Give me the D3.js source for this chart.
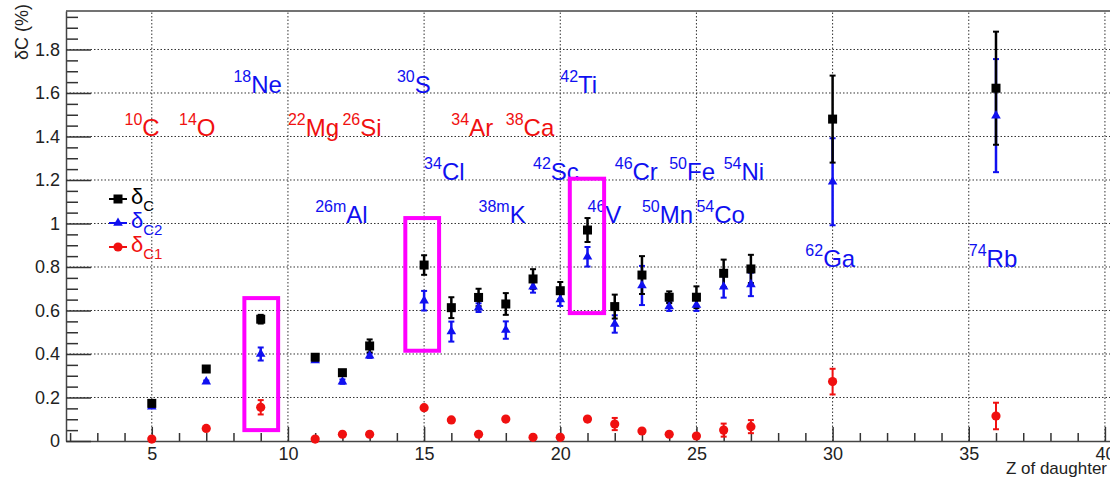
<!DOCTYPE html>
<html>
<head>
<meta charset="utf-8">
<script src="https://cdn.jsdelivr.net/npm/d3@7"></script>
<style>
body { margin: 0; background: #fff; }
svg { display: block; font-family: "Liberation Sans", Arial, Helvetica, sans-serif; }
</style>
</head>
<body>
<div id="chart"></div>
<script>
// Z of the daughter nucleus
const zDaughter = [5, 7, 9, 11, 12, 13, 15, 16, 17, 18, 19, 20, 21, 22, 23, 24, 25, 26, 27, 30, 36];

// delta_C (total) and its error
const deltaC    = [0.173, 0.331, 0.560, 0.385, 0.314, 0.437, 0.809, 0.613, 0.660, 0.630, 0.745, 0.691, 0.970, 0.618, 0.763, 0.661, 0.661, 0.771, 0.791, 1.480, 1.622];
const deltaCErr = [0.010, 0.010, 0.020, 0.010, 0.010, 0.030, 0.045, 0.048, 0.040, 0.050, 0.045, 0.040, 0.055, 0.055, 0.087, 0.027, 0.050, 0.063, 0.065, 0.200, 0.260];

// delta_C2 and its error
const deltaC2    = [0.158, 0.273, 0.400, 0.370, 0.273, 0.392, 0.645, 0.503, 0.613, 0.510, 0.709, 0.651, 0.847, 0.538, 0.715, 0.618, 0.625, 0.709, 0.720, 1.192, 1.496];
const deltaC2Err = [0.005, 0.005, 0.030, 0.005, 0.010, 0.010, 0.045, 0.046, 0.020, 0.040, 0.027, 0.030, 0.045, 0.040, 0.090, 0.020, 0.027, 0.050, 0.054, 0.200, 0.260];

// delta_C1 and its error
const deltaC1    = [0.009, 0.058, 0.155, 0.009, 0.031, 0.031, 0.153, 0.097, 0.031, 0.101, 0.017, 0.017, 0.101, 0.078, 0.046, 0.031, 0.023, 0.050, 0.066, 0.273, 0.115];
const deltaC1Err = [0.005, 0.005, 0.033, 0.005, 0.005, 0.005, 0.005, 0.005, 0.005, 0.005, 0.005, 0.005, 0.005, 0.028, 0.005, 0.005, 0.005, 0.030, 0.030, 0.059, 0.061];

// nucleus labels (mass number, element, anchor in data units)
const labelMass = ["10", "14", "18", "22", "26", "30", "42", "34", "38", "34", "42", "46", "50", "54", "26m", "38m", "46", "50", "54", "62", "74"];
const labelElem = ["C", "O", "Ne", "Mg", "Si", "S", "Ti", "Ar", "Ca", "Cl", "Sc", "Cr", "Fe", "Ni", "Al", "K", "V", "Mn", "Co", "Ga", "Rb"];
const labelZ    = [4, 6, 8, 10, 12, 14, 20, 16, 18, 15, 19, 22, 24, 26, 11, 17, 21, 23, 25, 29, 35];
const labelY    = [1.4, 1.4, 1.6, 1.4, 1.4, 1.6, 1.6, 1.4, 1.4, 1.2, 1.2, 1.2, 1.2, 1.2, 1.0, 1.0, 1.0, 1.0, 1.0, 0.8, 0.8];
const redLabels = ["C", "O", "Mg", "Si", "Ar", "Ca"];

// highlight boxes (data units)
const boxZ0 = [8.40, 14.31, 20.35];
const boxZ1 = [9.64, 15.55, 21.61];
const boxY0 = [0.050, 0.415, 0.588];
const boxY1 = [0.657, 1.025, 1.206];

const xMajor = [5, 10, 15, 20, 25, 30, 35, 40];
const yMajor = [0, 0.2, 0.4, 0.6, 0.8, 1.0, 1.2, 1.4, 1.6, 1.8];

const width = 1110;
const height = 479;
const red = "#f01010";
const blue = "#1010f0";

const svg = d3.select("#chart").append("svg")
    .attr("width", width)
    .attr("height", height);

// scales (frame continues past the right edge of the picture)
const x = d3.scaleLinear().domain([1.85, 40.37]).range([66, 1115]);
const y = d3.scaleLinear().domain([0, 1.977]).range([441, 11]);

// grid
svg.append("g").selectAll("line")
    .data(xMajor)
    .join("line")
    .attr("x1", d => x(d)).attr("x2", d => x(d))
    .attr("y1", y.range()[0]).attr("y2", y.range()[1])
    .attr("stroke", "#333").attr("stroke-width", 1)
    .attr("stroke-dasharray", "1.5,2");

svg.append("g").selectAll("line")
    .data(yMajor.filter(d => d > 0))
    .join("line")
    .attr("x1", x.range()[0]).attr("x2", x.range()[1])
    .attr("y1", d => y(d)).attr("y2", d => y(d))
    .attr("stroke", "#333").attr("stroke-width", 1)
    .attr("stroke-dasharray", "1.5,2");

// top frame line
svg.append("line")
    .attr("x1", x.range()[0]).attr("x2", x.range()[1])
    .attr("y1", y.range()[1]).attr("y2", y.range()[1])
    .attr("stroke", "#444").attr("stroke-width", 1.5);

// x axis: major with labels, minor without
const xMinor = d3.range(2, 41).filter(d => d % 5 !== 0);
svg.append("g")
    .attr("transform", `translate(0,${y(0)})`)
    .call(d3.axisBottom(x).tickValues(xMinor).tickSize(-8).tickFormat(""))
    .call(g => g.select(".domain").remove());
svg.append("g")
    .attr("transform", `translate(0,${y(0)})`)
    .call(d3.axisBottom(x).tickValues(xMajor).tickSizeInner(-14).tickSizeOuter(0).tickPadding(6).tickFormat(d3.format("d")));

// y axis
const yMinor = d3.range(0, 40).map(i => i * 0.05).filter(d => d < 1.977 && Math.abs(d / 0.2 - Math.round(d / 0.2)) > 0.01);
svg.append("g")
    .attr("transform", `translate(${x.range()[0]},0)`)
    .call(d3.axisLeft(y).tickValues(yMinor).tickSize(-12).tickFormat(""))
    .call(g => g.select(".domain").remove());
svg.append("g")
    .attr("transform", `translate(${x.range()[0]},0)`)
    .call(d3.axisLeft(y).tickValues(yMajor).tickSizeInner(-25).tickSizeOuter(0).tickPadding(6).tickFormat(d3.format("~g")));

svg.selectAll(".tick line").attr("stroke", "#333").attr("stroke-width", 1.5);
svg.selectAll(".domain").attr("stroke", "#444").attr("stroke-width", 1.5);
svg.selectAll(".tick text")
    .attr("fill", "#222")
    .style("font-size", "18px")
    .style("font-family", "\"Liberation Sans\", Arial, Helvetica, sans-serif");

// axis titles
svg.append("text")
    .attr("transform", `translate(28,4) rotate(-90)`)
    .attr("text-anchor", "end")
    .attr("fill", "#222")
    .style("font-size", "18px")
    .text("δC (%)");

svg.append("text")
    .attr("x", 1107)
    .attr("y", 474)
    .attr("text-anchor", "end")
    .attr("fill", "#222")
    .style("font-size", "17px")
    .text("Z of daughter");

// series: error bars first, markers afterwards
const series = [
    { vals: deltaC1, errs: deltaC1Err, color: red, shape: "circle", bw: 2 },
    { vals: deltaC2, errs: deltaC2Err, color: blue, shape: "triangle", bw: 2.5 },
    { vals: deltaC, errs: deltaCErr, color: "#000", shape: "square", bw: 2.5 }
];

const rows = s => zDaughter.map((z, i) => ({ z: z, v: s.vals[i], e: s.errs[i] }));

series.forEach(s => {
    const g = svg.append("g");
    g.selectAll("line.bar")
        .data(rows(s))
        .join("line")
        .attr("class", "bar")
        .attr("x1", d => x(d.z)).attr("x2", d => x(d.z))
        .attr("y1", d => y(d.v - d.e)).attr("y2", d => y(d.v + d.e))
        .attr("stroke", s.color).attr("stroke-width", s.bw);
    [-1, 1].forEach(sign => {
        g.selectAll("line.cap" + sign)
            .data(rows(s))
            .join("line")
            .attr("class", "cap" + sign)
            .attr("x1", d => x(d.z) - 3).attr("x2", d => x(d.z) + 3)
            .attr("y1", d => y(d.v + sign * d.e)).attr("y2", d => y(d.v + sign * d.e))
            .attr("stroke", s.color).attr("stroke-width", 2);
    });
});

function drawMarker(sel, shape, color) {
    if (shape === "square") {
        sel.append("rect").attr("x", -4.5).attr("y", -4.5).attr("width", 9).attr("height", 9).attr("fill", color);
    } else if (shape === "triangle") {
        sel.append("path").attr("d", d3.symbol(d3.symbolTriangle, 40)()).attr("fill", color);
    } else {
        sel.append("circle").attr("r", 4.6).attr("fill", color);
    }
}

series.forEach(s => {
    svg.append("g").selectAll("g")
        .data(rows(s))
        .join("g")
        .attr("transform", d => `translate(${x(d.z)},${y(d.v)})`)
        .call(sel => drawMarker(sel, s.shape, s.color));
});

// nucleus labels
const labels = svg.append("g").selectAll("text")
    .data(labelElem.map((el, i) => ({ el: el, mass: labelMass[i], z: labelZ[i], v: labelY[i] })))
    .join("text")
    .attr("x", d => x(d.z))
    .attr("y", d => y(d.v))
    .attr("fill", d => redLabels.includes(d.el) ? red : blue);
labels.append("tspan").attr("dy", -11).style("font-size", "16px").text(d => d.mass);
labels.append("tspan").attr("dy", 11).style("font-size", "24px").text(d => d.el);

// highlight boxes
svg.append("g").selectAll("rect")
    .data(boxZ0.map((z0, i) => ({ z0: z0, z1: boxZ1[i], y0: boxY0[i], y1: boxY1[i] })))
    .join("rect")
    .attr("x", d => x(d.z0))
    .attr("y", d => y(d.y1))
    .attr("width", d => x(d.z1) - x(d.z0))
    .attr("height", d => y(d.y0) - y(d.y1))
    .attr("fill", "none")
    .attr("stroke", "#f0f")
    .attr("stroke-width", 4);

// legend
const legendItems = [
    { sub: "C", color: "#000", shape: "square" },
    { sub: "C2", color: blue, shape: "triangle" },
    { sub: "C1", color: red, shape: "circle" }
];
const legend = svg.append("g").attr("transform", "translate(118,199)");
legendItems.forEach((item, i) => {
    const row = legend.append("g").attr("transform", `translate(0,${i * 24})`);
    row.append("line").attr("x1", -9).attr("x2", 9).attr("stroke", item.color).attr("stroke-width", 2);
    drawMarker(row, item.shape, item.color);
    const t = row.append("text").attr("x", 13).attr("y", 5).attr("fill", item.color);
    t.append("tspan").style("font-size", "22px").text("δ");
    t.append("tspan").attr("dy", 7).style("font-size", "15px").text(item.sub);
});
</script>
</body>
</html>
